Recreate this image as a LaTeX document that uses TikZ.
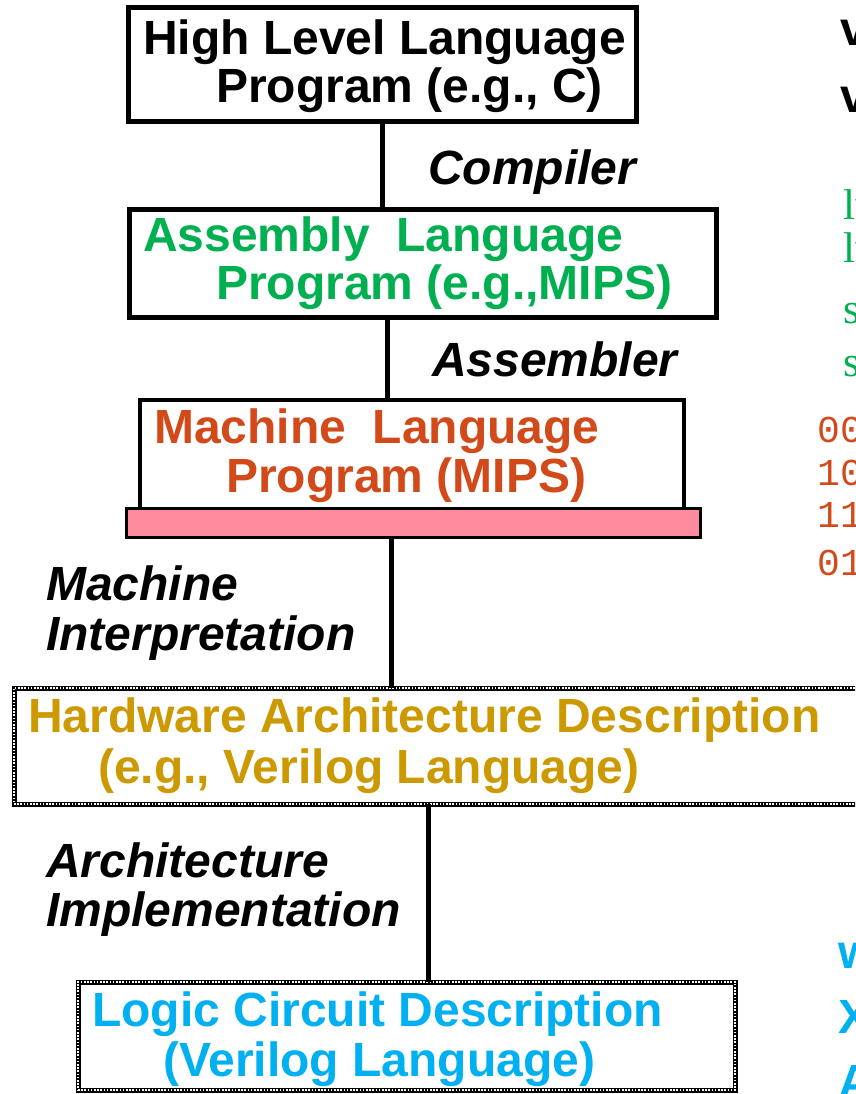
\documentclass[tikz,border=0pt]{standalone}
\usepackage{fontspec}
\setmainfont{Liberation Sans}
\newfontfamily\serifface{Liberation Serif}
\newfontfamily\monoface{Liberation Mono}
\definecolor{asmgreen}{HTML}{00B050}
\definecolor{mcred}{HTML}{D24A1A}
\definecolor{hwgold}{HTML}{CC9900}
\definecolor{lcblue}{HTML}{00B0F0}
\definecolor{barpink}{HTML}{FF8C9E}
\tikzset{
  solidbox/.style={draw=black, rectangle, inner sep=0pt, outer sep=0pt, anchor=north west, line width=5pt},
  chainbox/.style={draw=black, rectangle, inner sep=0pt, outer sep=0pt, anchor=north west, line width=5pt,
    postaction={draw=white, line width=1.6pt, dash pattern=on 1.6pt off 1.6pt}},
  big/.style={font=\fontsize{48}{48}\selectfont\bfseries, inner sep=0pt, anchor=base west},
  lab/.style={font=\fontsize{48}{48}\selectfont\bfseries\itshape, inner sep=0pt, anchor=base west, text=black},
  conn/.style={line width=5pt, draw=black},
  side/.style={inner sep=0pt, anchor=base west},
}
\begin{document}
\begin{tikzpicture}[x=1pt,y=-1pt]
\useasboundingbox (0,0) rectangle (855,1094);
\clip (0,0) rectangle (855,1094);

% boxes
\node[solidbox, minimum width=508pt, minimum height=114pt] (b1) at (128,8) {};
\node[solidbox, minimum width=587pt, minimum height=108pt] (b2) at (129,209) {};
\node[solidbox, line width=4pt, minimum width=544pt, minimum height=110pt] (b3) at (140,400) {};
\node[draw=black, line width=3pt, fill=barpink, rectangle, inner sep=0pt, outer sep=0pt, anchor=north west,
      minimum width=574pt, minimum height=29pt] (bar) at (126,508) {};
\node[chainbox, minimum width=900pt, minimum height=116pt] (b4) at (14,688) {};
\node[chainbox, minimum width=657pt, minimum height=108pt] (b5) at (78,982) {};

% connectors
\draw[conn] (b1.south) -- (b2.north -| b1.south);
\draw[conn] (b2.south -| 387,0) -- (b3.north -| 387,0);
\draw[conn] (bar.south -| 391,0) -- (b4.north -| 391,0);
\draw[conn] (b4.south -| 428,0) -- (b5.north -| 428,0);

% box texts
\node[big] (t1a) at (143,55) {High Level Language};
\node[big] (t1b) at (216,103) {Program (e.g., C)};
\node[big, text=asmgreen] (t2a) at (143,251) {Assembly\ \ Language};
\node[big, text=asmgreen] (t2b) at (216,299) {Program (e.g.,MIPS)};
\node[big, text=mcred] (t3a) at (154,443) {Machine\ \ Language};
\node[big, text=mcred] (t3b) at (226,492) {Program (MIPS)};
\node[big, text=hwgold] (t4a) at (28,732) {Hardware Architecture Description};
\node[big, text=hwgold] (t4b) at (98,783) {(e.g., Verilog Language)};
\node[big, text=lcblue] (t5a) at (92,1026) {Logic Circuit Description};
\node[big, text=lcblue] (t5b) at (163,1076) {(Verilog Language)};

% connector labels
\node[lab] (l1) at (428,185) {Compiler};
\node[lab] (l2) at (432,376) {Assembler};
\node[lab] (l3a) at (46,600) {Machine};
\node[lab] (l3b) at (46,650) {Interpretation};
\node[lab] (l4a) at (46,877) {Architecture};
\node[lab] (l4b) at (46,926) {Implementation};

% clipped texts at the right edge
\node[side, font=\fontsize{48}{48}\selectfont\bfseries] (r1) at (840,46) {v};
\node[side, font=\fontsize{48}{48}\selectfont\bfseries] (r2) at (840,113) {v};
\node[side, font=\fontsize{43}{43}\serifface, text=asmgreen] (g1) at (843,219) {lw};
\node[side, font=\fontsize{43}{43}\serifface, text=asmgreen] (g2) at (843,262) {lw};
\node[side, font=\fontsize{43}{43}\serifface, text=asmgreen] (g3) at (843,323) {s};
\node[side, font=\fontsize{43}{43}\serifface, text=asmgreen] (g4) at (843,376) {s};
\node[side, font=\fontsize{38}{38}\monoface, text=mcred] (m1) at (817,442) {00};
\node[side, font=\fontsize{38}{38}\monoface, text=mcred] (m2) at (817,485) {10};
\node[side, font=\fontsize{38}{38}\monoface, text=mcred] (m3) at (817,527) {11};
\node[side, font=\fontsize{38}{38}\monoface, text=mcred] (m4) at (817,575) {01};
\node[side, font=\fontsize{48}{48}\selectfont\bfseries, text=lcblue] (c1) at (838,968) {w};
\node[side, font=\fontsize{48}{48}\selectfont\bfseries, text=lcblue] (c2) at (838,1033) {X};
\node[side, font=\fontsize{48}{48}\selectfont\bfseries, text=lcblue] (c3) at (838,1098) {A};
\end{tikzpicture}
\end{document}
